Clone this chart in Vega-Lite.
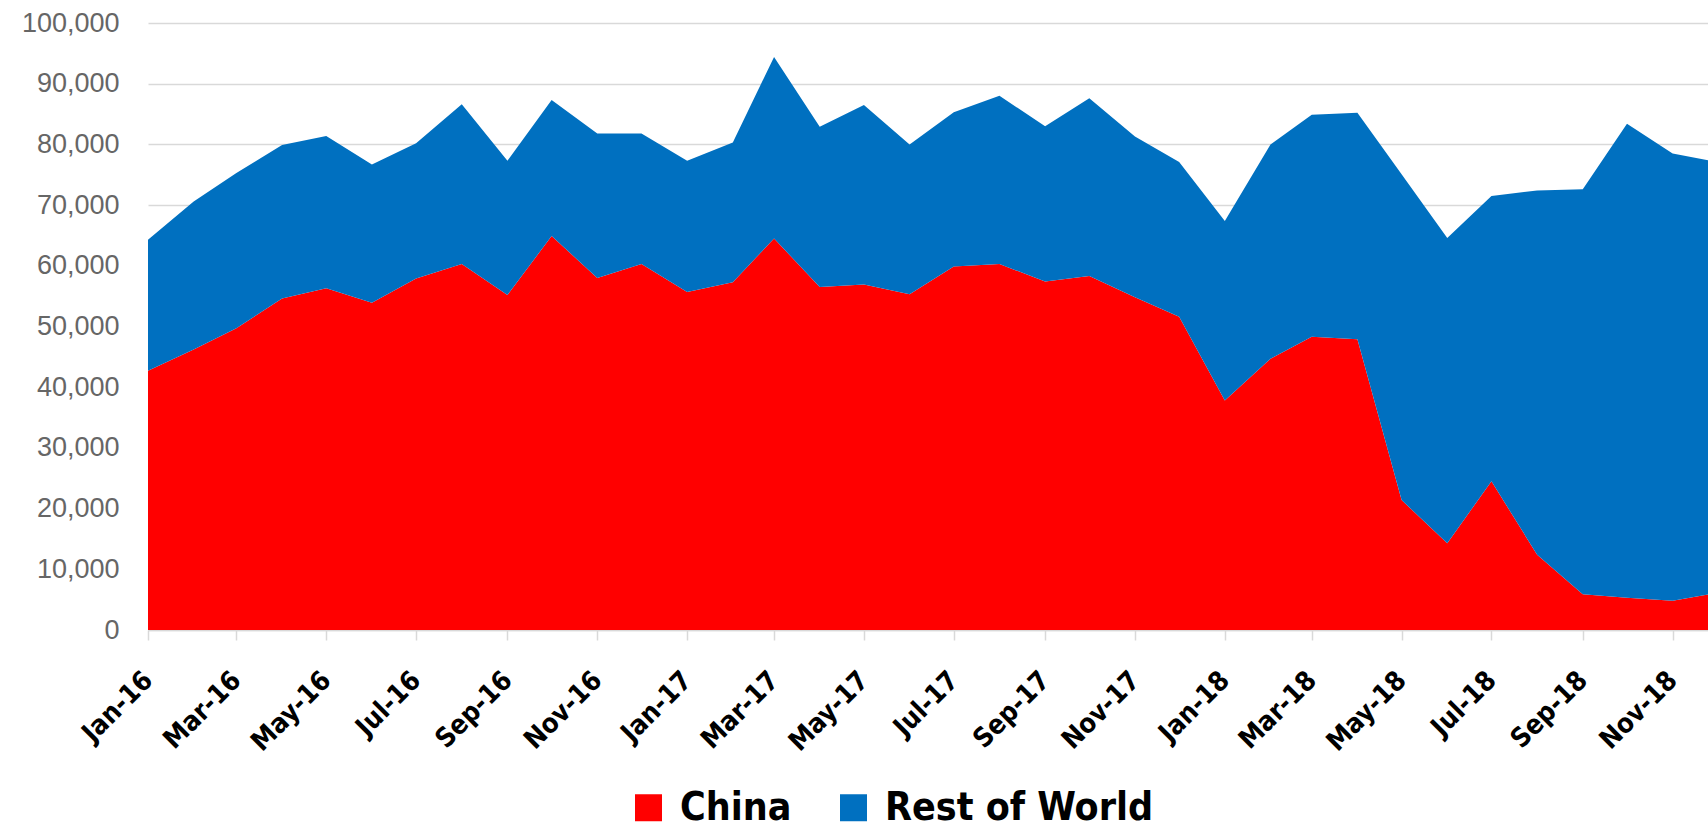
{
  "$schema": "https://vega.github.io/schema/vega-lite/v6.json",
  "width": 1560,
  "height": 607,
  "autosize": {"type": "none"},
  "padding": {"left": 148, "top": 23, "right": 0, "bottom": 198},
  "background": "white",
  "config": {"view": {"stroke": null}},
  "data": {
    "values": [
      {"month": "2016-01-01", "region": "China", "units": 42700}, {"month": "2016-01-01", "region": "Rest of World", "units": 21600},
      {"month": "2016-02-01", "region": "China", "units": 46200}, {"month": "2016-02-01", "region": "Rest of World", "units": 24400},
      {"month": "2016-03-01", "region": "China", "units": 49700}, {"month": "2016-03-01", "region": "Rest of World", "units": 25600},
      {"month": "2016-04-01", "region": "China", "units": 54600}, {"month": "2016-04-01", "region": "Rest of World", "units": 25300},
      {"month": "2016-05-01", "region": "China", "units": 56300}, {"month": "2016-05-01", "region": "Rest of World", "units": 25100},
      {"month": "2016-06-01", "region": "China", "units": 53900}, {"month": "2016-06-01", "region": "Rest of World", "units": 22800},
      {"month": "2016-07-01", "region": "China", "units": 57900}, {"month": "2016-07-01", "region": "Rest of World", "units": 22300},
      {"month": "2016-08-01", "region": "China", "units": 60300}, {"month": "2016-08-01", "region": "Rest of World", "units": 26300},
      {"month": "2016-09-01", "region": "China", "units": 55200}, {"month": "2016-09-01", "region": "Rest of World", "units": 22100},
      {"month": "2016-10-01", "region": "China", "units": 64900}, {"month": "2016-10-01", "region": "Rest of World", "units": 22400},
      {"month": "2016-11-01", "region": "China", "units": 58000}, {"month": "2016-11-01", "region": "Rest of World", "units": 23800},
      {"month": "2016-12-01", "region": "China", "units": 60300}, {"month": "2016-12-01", "region": "Rest of World", "units": 21500},
      {"month": "2017-01-01", "region": "China", "units": 55700}, {"month": "2017-01-01", "region": "Rest of World", "units": 21600},
      {"month": "2017-02-01", "region": "China", "units": 57300}, {"month": "2017-02-01", "region": "Rest of World", "units": 23000},
      {"month": "2017-03-01", "region": "China", "units": 64500}, {"month": "2017-03-01", "region": "Rest of World", "units": 29900},
      {"month": "2017-04-01", "region": "China", "units": 56500}, {"month": "2017-04-01", "region": "Rest of World", "units": 26400},
      {"month": "2017-05-01", "region": "China", "units": 56900}, {"month": "2017-05-01", "region": "Rest of World", "units": 29600},
      {"month": "2017-06-01", "region": "China", "units": 55300}, {"month": "2017-06-01", "region": "Rest of World", "units": 24700},
      {"month": "2017-07-01", "region": "China", "units": 59900}, {"month": "2017-07-01", "region": "Rest of World", "units": 25400},
      {"month": "2017-08-01", "region": "China", "units": 60300}, {"month": "2017-08-01", "region": "Rest of World", "units": 27700},
      {"month": "2017-09-01", "region": "China", "units": 57400}, {"month": "2017-09-01", "region": "Rest of World", "units": 25600},
      {"month": "2017-10-01", "region": "China", "units": 58300}, {"month": "2017-10-01", "region": "Rest of World", "units": 29300},
      {"month": "2017-11-01", "region": "China", "units": 54800}, {"month": "2017-11-01", "region": "Rest of World", "units": 26500},
      {"month": "2017-12-01", "region": "China", "units": 51600}, {"month": "2017-12-01", "region": "Rest of World", "units": 25500},
      {"month": "2018-01-01", "region": "China", "units": 37800}, {"month": "2018-01-01", "region": "Rest of World", "units": 29600},
      {"month": "2018-02-01", "region": "China", "units": 44700}, {"month": "2018-02-01", "region": "Rest of World", "units": 35300},
      {"month": "2018-03-01", "region": "China", "units": 48300}, {"month": "2018-03-01", "region": "Rest of World", "units": 36600},
      {"month": "2018-04-01", "region": "China", "units": 47900}, {"month": "2018-04-01", "region": "Rest of World", "units": 37300},
      {"month": "2018-05-01", "region": "China", "units": 21400}, {"month": "2018-05-01", "region": "Rest of World", "units": 53700},
      {"month": "2018-06-01", "region": "China", "units": 14300}, {"month": "2018-06-01", "region": "Rest of World", "units": 50300},
      {"month": "2018-07-01", "region": "China", "units": 24500}, {"month": "2018-07-01", "region": "Rest of World", "units": 47000},
      {"month": "2018-08-01", "region": "China", "units": 12400}, {"month": "2018-08-01", "region": "Rest of World", "units": 60000},
      {"month": "2018-09-01", "region": "China", "units": 5900}, {"month": "2018-09-01", "region": "Rest of World", "units": 66700},
      {"month": "2018-10-01", "region": "China", "units": 5300}, {"month": "2018-10-01", "region": "Rest of World", "units": 78100},
      {"month": "2018-11-01", "region": "China", "units": 4800}, {"month": "2018-11-01", "region": "Rest of World", "units": 73700},
      {"month": "2018-12-01", "region": "China", "units": 6100}, {"month": "2018-12-01", "region": "Rest of World", "units": 71000}
    ]
  },
  "mark": {"type": "area", "clip": true},
  "encoding": {
    "x": {
      "field": "month",
      "type": "temporal",
      "scale": {
        "type": "utc",
        "domain": [
          {"year": 2016, "month": 1, "date": 1, "utc": true},
          {"year": 2018, "month": 11, "date": 25, "utc": true}
        ]
      },
      "axis": {
        "title": null,
        "format": "%b-%y",
        "values": [
          {"year": 2016, "month": 1, "date": 1, "utc": true},
          {"year": 2016, "month": 3, "date": 1, "utc": true},
          {"year": 2016, "month": 5, "date": 1, "utc": true},
          {"year": 2016, "month": 7, "date": 1, "utc": true},
          {"year": 2016, "month": 9, "date": 1, "utc": true},
          {"year": 2016, "month": 11, "date": 1, "utc": true},
          {"year": 2017, "month": 1, "date": 1, "utc": true},
          {"year": 2017, "month": 3, "date": 1, "utc": true},
          {"year": 2017, "month": 5, "date": 1, "utc": true},
          {"year": 2017, "month": 7, "date": 1, "utc": true},
          {"year": 2017, "month": 9, "date": 1, "utc": true},
          {"year": 2017, "month": 11, "date": 1, "utc": true},
          {"year": 2018, "month": 1, "date": 1, "utc": true},
          {"year": 2018, "month": 3, "date": 1, "utc": true},
          {"year": 2018, "month": 5, "date": 1, "utc": true},
          {"year": 2018, "month": 7, "date": 1, "utc": true},
          {"year": 2018, "month": 9, "date": 1, "utc": true},
          {"year": 2018, "month": 11, "date": 1, "utc": true}
        ],
        "grid": false,
        "domain": true,
        "domainColor": "#d9d9d9",
        "domainWidth": 1.5,
        "ticks": true,
        "tickColor": "#d9d9d9",
        "tickWidth": 1.5,
        "tickSize": 10,
        "labelAngle": -45,
        "labelAlign": "right",
        "labelBaseline": "middle",
        "labelPadding": 36,
        "labelFont": "DejaVu Sans Condensed",
        "labelFontWeight": "bold",
        "labelFontSize": 27,
        "labelColor": "#000000",
        "labelOverlap": false,
        "labelFlush": false
      }
    },
    "y": {
      "field": "units",
      "type": "quantitative",
      "stack": "zero",
      "scale": {"domain": [0, 100000], "nice": false},
      "axis": {
        "title": null,
        "values": [0, 10000, 20000, 30000, 40000, 50000, 60000, 70000, 80000, 90000, 100000],
        "format": ",d",
        "grid": true,
        "gridColor": "#d9d9d9",
        "gridWidth": 1.5,
        "domain": false,
        "ticks": false,
        "labelPadding": 29,
        "labelFont": "Liberation Sans",
        "labelFontSize": 27,
        "labelColor": "#666666"
      }
    },
    "color": {
      "field": "region",
      "type": "nominal",
      "scale": {"domain": ["China", "Rest of World"], "range": ["#ff0000", "#0070c0"]},
      "legend": {
        "title": null,
        "orient": "none",
        "legendX": 481,
        "legendY": 765,
        "direction": "horizontal",
        "symbolType": "square",
        "symbolSize": 729,
        "symbolStrokeWidth": 0,
        "labelFont": "DejaVu Sans Condensed",
        "labelFontWeight": "bold",
        "labelFontSize": 39,
        "labelColor": "#000000",
        "labelOffset": 12,
        "columnPadding": 42,
        "labelLimit": 0
      }
    },
    "order": {"field": "region", "sort": "ascending"}
  }
}
